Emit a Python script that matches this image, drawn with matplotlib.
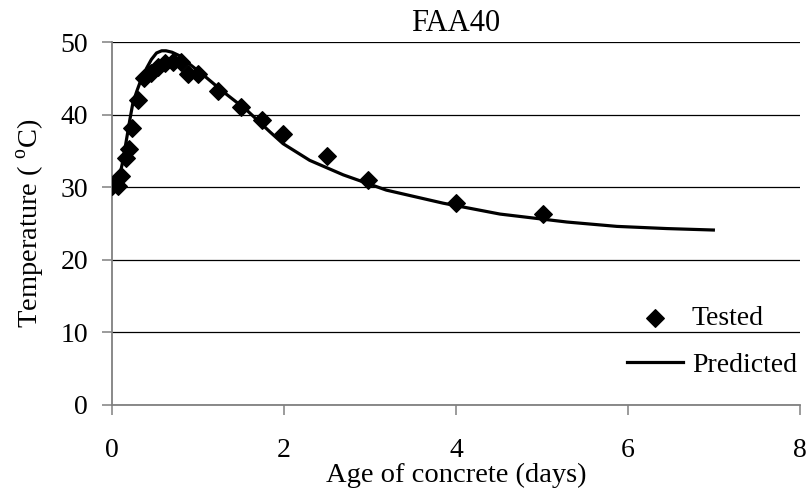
import numpy as np
import matplotlib.pyplot as plt

plt.rcParams['font.family'] = ['Liberation Serif', 'DejaVu Serif']
plt.rcParams['mathtext.fontset'] = 'custom'
plt.rcParams['mathtext.rm'] = 'Liberation Serif'

# tested points (days, deg C)
tested_x = [0.0, 0.07, 0.11, 0.17, 0.2, 0.24, 0.3, 0.38, 0.46, 0.54, 0.62, 0.71,
            0.81, 0.89, 1.0, 1.23, 1.5, 1.74, 1.99, 2.5, 2.98, 4.0, 5.01]
tested_y = [30.1, 30.1, 31.5, 34.0, 35.2, 38.2, 42.0, 45.0, 45.8, 46.6, 47.1, 47.3,
            47.3, 45.6, 45.6, 43.2, 41.1, 39.2, 37.4, 34.3, 31.0, 27.8, 26.3]

# predicted curve
pred_x = [0.0, 0.05, 0.1, 0.13, 0.17, 0.21, 0.245, 0.29, 0.33, 0.4, 0.46, 0.52,
          0.58, 0.63, 0.7, 0.79, 0.9, 1.06, 1.29, 1.57, 1.84, 1.99, 2.3, 2.69,
          3.19, 3.85, 4.51, 5.29, 5.87, 6.45, 6.99]
pred_y = [30.0, 30.6, 32.0, 33.7, 36.5, 39.3, 41.6, 43.2, 44.5, 46.3, 47.6, 48.5,
          48.8, 48.8, 48.6, 48.1, 47.0, 45.5, 43.2, 40.6, 37.6, 36.0, 33.7, 31.7,
          29.6, 27.8, 26.3, 25.2, 24.6, 24.3, 24.1]

fig = plt.figure(figsize=(8.1, 4.95), dpi=100)
ax = fig.add_axes([0.138, 0.182, 0.85, 0.733])

ax.plot(pred_x, pred_y, color='black', lw=2.3, label='Predicted', zorder=3)
ax.scatter(tested_x, tested_y, marker='D', s=80, color='black', label='Tested', zorder=4)

ax.set_xlim(0, 8)
ax.set_ylim(0, 50)
ax.set_xticks(range(0, 9, 2))
ax.set_yticks(range(0, 51, 10))
ax.yaxis.grid(True, color='black', lw=0.9)
ax.set_axisbelow(True)

for s in ['top', 'right']:
    ax.spines[s].set_visible(False)
for s in ['left', 'bottom']:
    ax.spines[s].set_color('#808080')
    ax.spines[s].set_linewidth(1.3)
ax.tick_params(direction='out', length=7, width=1.1, color='#808080', labelsize=20)
ax.tick_params(axis='x', pad=17)
ax.tick_params(axis='y', pad=10)

ax.set_title('FAA40', fontsize=22, pad=8)
ax.set_xlabel('Age of concrete (days)', fontsize=20.5, labelpad=0)
ax.set_ylabel('Temperature ( $^{\\rm o}$C)', fontsize=20.5, labelpad=10)

handles, labels = ax.get_legend_handles_labels()
ax.legend(handles[::-1], labels[::-1], loc='upper left',
          bbox_to_anchor=(627 / 810, 1 - 306 / 495), bbox_transform=fig.transFigure,
          frameon=False, fontsize=20, handlelength=2.0, labelspacing=0.75,
          handletextpad=0.33, borderpad=0, borderaxespad=0)

fig.savefig('out.png', dpi=100)
